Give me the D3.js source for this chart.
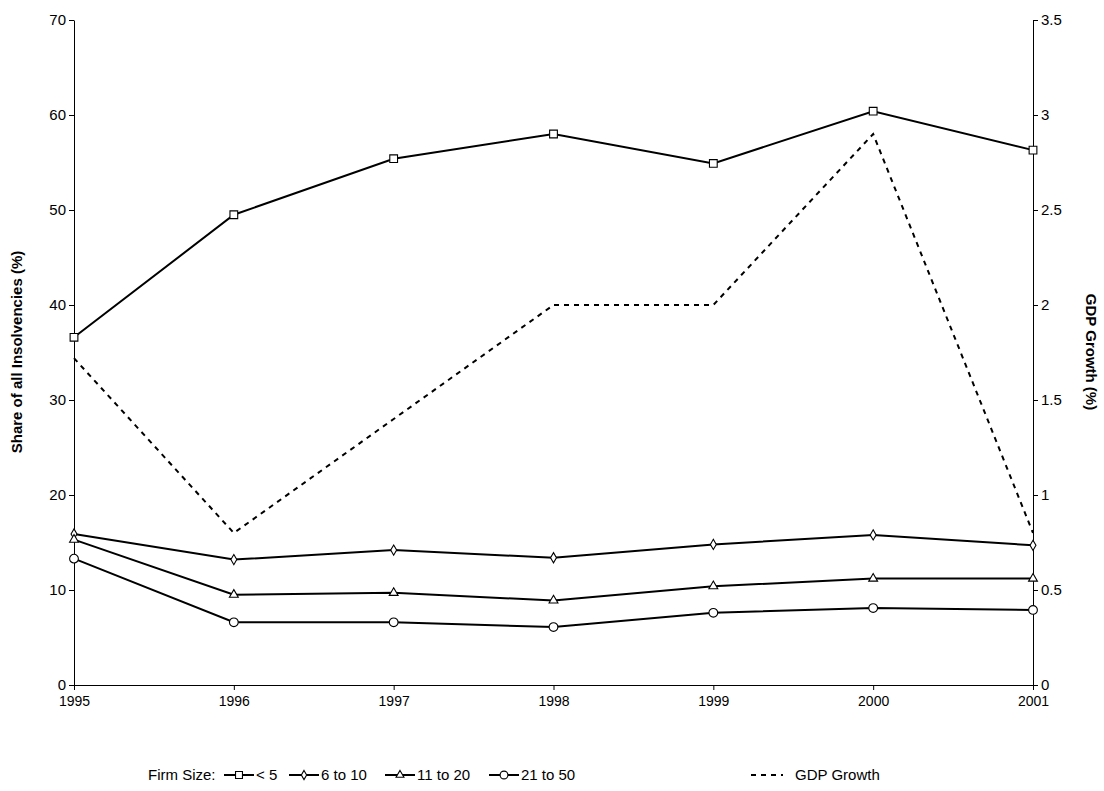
<!DOCTYPE html>
<html lang="en">
<head>
<meta charset="UTF-8">
<title>Insolvencies by firm size</title>
<style>
  body { margin: 0; background: #fff; }
  text { font-family: Arial, "Liberation Sans", sans-serif; }
</style>
</head>
<body>
<script src="https://d3js.org/d3.v7.min.js"></script>
<script>
var years = [1995, 1996, 1997, 1998, 1999, 2000, 2001];
var under5 = [36.6, 49.5, 55.4, 58.0, 54.9, 60.4, 56.3];
var six10 = [15.9, 13.2, 14.2, 13.4, 14.8, 15.8, 14.7];
var eleven20 = [15.3, 9.5, 9.7, 8.9, 10.4, 11.2, 11.2];
var twenty50 = [13.3, 6.6, 6.6, 6.1, 7.6, 8.1, 7.9];
var gdp = [1.72, 0.8, 1.4, 2.0, 2.0, 2.9, 0.8];
var leftTicks = [0, 10, 20, 30, 40, 50, 60, 70];
var rightTicks = [0, 0.5, 1, 1.5, 2, 2.5, 3, 3.5];

var svg = d3.select("body").append("svg").attr("width", 1104).attr("height", 791);

var x = d3.scaleLinear().domain([1995, 2001]).range([74, 1033]);
var yL = d3.scaleLinear().domain([0, 70]).range([685, 20]);
var yR = d3.scaleLinear().domain([0, 3.5]).range([685, 20]);

svg.append("g").attr("transform", "translate(74,0)")
    .call(d3.axisLeft(yL).tickValues(leftTicks).tickSize(5).tickSizeOuter(0))
    .call(g => g.selectAll("text").attr("font-size", 15).attr("fill", "#000"));
svg.append("g").attr("transform", "translate(1033,0)")
    .call(d3.axisRight(yR).tickValues(rightTicks).tickSize(5).tickSizeOuter(0).tickFormat(d => String(d)))
    .call(g => g.selectAll("text").attr("font-size", 15).attr("fill", "#000"));
svg.append("g").attr("transform", "translate(0,685)")
    .call(d3.axisBottom(x).tickValues(years).tickFormat(d3.format("d")).tickSize(5).tickSizeOuter(0))
    .call(g => g.selectAll("text").attr("font-size", 14).attr("fill", "#000").attr("dy", "0.9em"));
svg.selectAll(".domain").attr("stroke", "#000");
svg.selectAll(".tick line").attr("stroke", "#000");

svg.append("text").attr("transform", "translate(22,352) rotate(-90)")
    .attr("text-anchor", "middle").attr("font-size", 15).attr("font-weight", "bold")
    .text("Share of all Insolvencies (%)");
svg.append("text").attr("transform", "translate(1086,352) rotate(90)")
    .attr("text-anchor", "middle").attr("font-size", 15).attr("font-weight", "bold")
    .text("GDP Growth (%)");

var line = d3.line().x((d, i) => x(years[i])).y(d => yL(d));
var lineR = d3.line().x((d, i) => x(years[i])).y(d => yR(d));

svg.append("path").attr("d", lineR(gdp)).attr("fill", "none")
    .attr("stroke", "#000").attr("stroke-width", 2).attr("stroke-dasharray", "5,5");

var series = [
  {name: "< 5", vals: under5, shape: d3.symbolSquare, size: 60},
  {name: "6 to 10", vals: six10, shape: d3.symbolDiamond, size: 30},
  {name: "11 to 20", vals: eleven20, shape: d3.symbolTriangle, size: 34},
  {name: "21 to 50", vals: twenty50, shape: d3.symbolCircle, size: 60}
];

series.forEach(function(s) {
  svg.append("path").attr("d", line(s.vals)).attr("fill", "none")
      .attr("stroke", "#000").attr("stroke-width", 2);
  svg.selectAll(null).data(s.vals).enter().append("path")
      .attr("d", d3.symbol().type(s.shape).size(s.size))
      .attr("transform", (d, i) => "translate(" + x(years[i]) + "," + yL(d) + ")")
      .attr("fill", "#fff").attr("stroke", "#000").attr("stroke-width", 1.1);
});

var ly = 775;
svg.append("text").attr("x", 148).attr("y", ly + 5).attr("font-size", 15).text("Firm Size:");
var lx = [224, 289, 385, 489];
series.forEach(function(s, i) {
  var x0 = lx[i];
  svg.append("line").attr("x1", x0).attr("x2", x0 + 30).attr("y1", ly).attr("y2", ly)
      .attr("stroke", "#000").attr("stroke-width", 2);
  svg.append("path").attr("d", d3.symbol().type(s.shape).size(s.size * 0.8))
      .attr("transform", "translate(" + (x0 + 15) + "," + ly + ")")
      .attr("fill", "#fff").attr("stroke", "#000").attr("stroke-width", 1.1);
  svg.append("text").attr("x", x0 + 32).attr("y", ly + 5).attr("font-size", 15).text(s.name);
});
svg.append("line").attr("x1", 751).attr("x2", 783).attr("y1", ly).attr("y2", ly)
    .attr("stroke", "#000").attr("stroke-width", 2).attr("stroke-dasharray", "5,5");
svg.append("text").attr("x", 795).attr("y", ly + 5).attr("font-size", 15).text("GDP Growth");
</script>
</body>
</html>
